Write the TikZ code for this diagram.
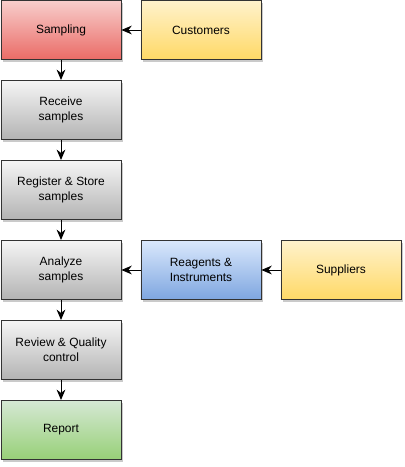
\documentclass[tikz,border=0pt]{standalone}
\usepackage{fontspec}
\setmainfont{Liberation Sans}
\usetikzlibrary{shapes,arrows,arrows.meta,shadows,calc}
\usetikzlibrary{positioning}
\definecolor{redtop}{HTML}{F8CECC}
\definecolor{redbot}{HTML}{EA6B66}
\definecolor{yeltop}{HTML}{FFF2CC}
\definecolor{yelbot}{HTML}{FFD966}
\definecolor{graytop}{HTML}{F5F5F5}
\definecolor{graybot}{HTML}{B3B3B3}
\definecolor{bluetop}{HTML}{DAE8FC}
\definecolor{bluebot}{HTML}{7EA6E0}
\definecolor{greentop}{HTML}{D5E8D4}
\definecolor{greenbot}{HTML}{97D077}
\tikzstyle{stepbox}=[draw=black!80, line width=0.6pt, minimum width=3cm, minimum height=1.48cm, align=center, drop shadow={shadow xshift=0.06cm, shadow yshift=-0.06cm, fill=black!35, opacity=0.6}, font=\fontsize{8.5}{10.5}\selectfont]
\tikzstyle{redbox}=[stepbox, top color=redtop, bottom color=redbot]
\tikzstyle{yelbox}=[stepbox, top color=yeltop, bottom color=yelbot]
\tikzstyle{graybox}=[stepbox, top color=graytop, bottom color=graybot]
\tikzstyle{bluebox}=[stepbox, top color=bluetop, bottom color=bluebot]
\tikzstyle{greenbox}=[stepbox, top color=greentop, bottom color=greenbot]
\tikzstyle{myarrow}=[-{Stealth[length=2.6mm, width=2.2mm]}, line width=0.6pt]

\begin{document}
\begin{tikzpicture}[x=0.025cm, y=-0.025cm]
    \useasboundingbox (0, 0) rectangle (404, 467) ;
    % main column
    \node[redbox] (sampling) at (61, 30) {Sampling} ;
    \node[graybox] (receive) at (61, 110) {Receive\\samples} ;
    \node[graybox] (register) at (61, 190) {Register \& Store\\samples} ;
    \node[graybox] (analyze) at (61, 270) {Analyze\\samples} ;
    \node[graybox] (review) at (61, 350) {Review \& Quality\\control} ;
    \node[greenbox] (report) at (61, 430) {Report} ;
    % inputs
    \node[yelbox] (customers) at (201, 30) {Customers} ;
    \node[bluebox] (reagents) at (201, 270) {Reagents \&\\Instruments} ;
    \node[yelbox] (suppliers) at (341, 270) {Suppliers} ;
    \draw[myarrow] (sampling) -- (receive) ;
    \draw[myarrow] (receive) -- (register) ;
    \draw[myarrow] (register) -- (analyze) ;
    \draw[myarrow] (analyze) -- (review) ;
    \draw[myarrow] (review) -- (report) ;
    \draw[myarrow] (customers) -- (sampling) ;
    \draw[myarrow] (reagents) -- (analyze) ;
    \draw[myarrow] (suppliers) -- (reagents) ;
\end{tikzpicture}
\end{document}
